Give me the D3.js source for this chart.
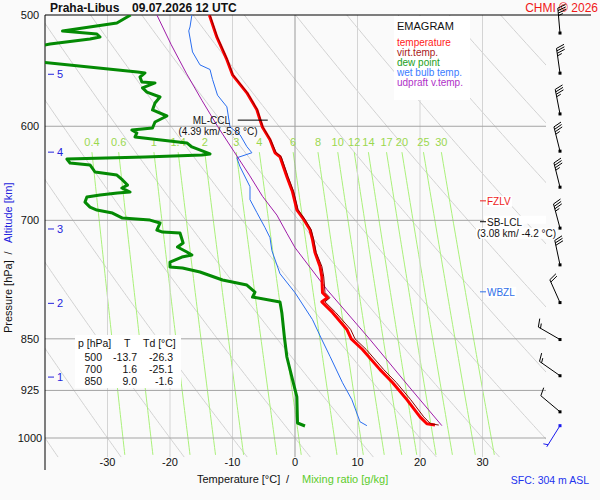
<!DOCTYPE html>
<html>
<head>
<meta charset="utf-8">
<script src="https://cdn.jsdelivr.net/npm/d3@7"></script>
<style>
  body { margin: 0; background: #fafafa; }
  svg { font-family: "Liberation Sans", Arial, sans-serif; display: block; }
</style>
</head>
<body>
<svg id="chart" width="600" height="500"></svg>
<script>
const pressureTicks = [500, 600, 700, 850, 925, 1000]
const tempTicks = [-30, -20, -10, 0, 10, 20, 30]
const mixingRatios = [0.4, 0.6, 1, 1.4, 2, 3, 4, 6, 8, 10, 12, 14, 17, 20, 25, 30]
const dryAdiabats = [-40, -30, -20, -10, 0, 10, 20, 30, 40, 50, 60, 70, 80, 90, 100, 110, 120, 130, 140]
const altKm = [1, 2, 3, 4, 5]
const altP = [905, 802, 710, 626, 551]

// [pressure hPa, temperature °C]
const temperature = [[500,-13.7],[518.5,-12.5],[538,-10.9],[551.5,-10.0],[568,-7.7],[584,-6.1],[593.6,-5.6],[601,-5.2],
  [613.4,-4.0],[626.6,-3.2],[630.7,-2.4],[651.7,-1.3],[668,-0.4],[688,0.3],[699,1.4],[711,2.4],[722.5,2.8],[738,3.2],
  [755,4.0],[768,4.3],[788,4.4],[794.6,5.2],[800,4.3],[814,6.0],[837,8.3],[850,9.0],[865,10.8],[894,13.6],[913,15.6],
  [939,17.9],[966,20.0],[977,21.1],[979,22.4]]
const virtTemp = [[500,-13.6],[518.5,-12.4],[538,-10.8],[551.5,-9.9],[568,-7.6],[584,-6.0],[593.6,-5.5],[601,-5.1],
  [613.4,-3.9],[626.6,-3.0],[630.7,-2.2],[651.7,-1.1],[668,-0.2],[688,0.5],[699,1.6],[711,2.6],[722.5,3.0],[738,3.4],
  [755,4.3],[768,4.6],[788,4.8],[794.6,5.6],[800,4.8],[814,6.5],[837,8.9],[850,9.6],[865,11.4],[894,14.2],[913,16.2],
  [939,18.5],[966,20.6],[977,21.7],[979,23.0]]
const dewPoint = [[500,-26.3],[506.6,-28.5],[513.3,-37.2],[515.8,-31.7],[518.4,-31.2],[520.1,-32.8],[524.3,-39.2],
  [532,-46],[540,-41],[549,-25.2],[549.8,-24.0],[553.5,-24.8],[558,-24.5],[558.9,-22.4],[563.5,-24.4],[567.3,-23.7],
  [571.9,-21.6],[577.6,-22.4],[584.2,-22.8],[590,-20.5],[595.8,-22.4],[601.7,-22.8],[603.7,-26.1],[606.6,-25.3],
  [610.6,-25.6],[616.6,-17.3],[620.7,-16.5],[627.8,-13.6],[628.9,-14.9],[631,-24.0],[633.1,-36.5],[637.2,-36.0],
  [639.3,-32.8],[646.7,-32.0],[649.9,-28.5],[655.2,-27.6],[660.7,-26.8],[663.9,-27.7],[668.3,-26.4],[669.4,-28.4],
  [671.6,-31.2],[673.8,-33.3],[679.4,-33.6],[685,-32.8],[688.3,-31.7],[691.7,-29.2],[697.4,-27.6],[699.7,-23.2],
  [703.1,-21.6],[711.2,-22.1],[713.6,-21.2],[714.7,-18.4],[726.5,-17.9],[731.3,-18.8],[737.3,-17.3],[740.9,-16.5],
  [743.4,-18.1],[749.5,-20.0],[755.6,-20.0],[756.9,-18.0],[761.8,-15.2],[771.9,-11.6],[778.3,-7.7],[787.3,-6.4],
  [793.8,-6.8],[800.3,-2.4],[814.8,-2.1],[847.5,-1.7],[875.7,-1.3],[904.9,-0.5],[935,0.3],[975.7,0.4],[980.5,1.6]]
const wetBulb = [[500,-16.5],[509.9,-16.8],[513.2,-17.0],[531.2,-16.4],[542.6,-15.2],[546.7,-13.6],[555.6,-13.2],
  [570.2,-12.4],[581.2,-10.9],[600.8,-10.4],[608.4,-8.8],[620.4,-7.7],[626.6,-6.9],[631.8,-9.3],[641.1,-8.8],
  [662.5,-7.2],[676.7,-7.2],[691.2,-6.1],[708.4,-4.8],[720.2,-4.0],[735.6,-3.7],[764,-2.4],[788.1,0.0],[823.7,2.8],
  [851.2,4.3],[874.8,5.6],[913.4,7.6],[939.2,9.1],[973.7,10.4],[980,11.5]]
const updraft = [[500,-22.1],[525,-19.8],[550,-17.4],[575,-14.9],[600,-12.4],[625,-9.8],[650,-7.3],[673,-5.2],
  [694,-2.9],[715,-1.3],[732,0.0],[784,5.1],[851,12.0],[920,18.3],[980,23.5]]

// wind profile every 0.5 km (pressure, direction deg, speed kt)
const windP = [515, 550, 588, 625, 663, 709, 753, 801, 851, 903, 958]
const windDir = [355, 352, 349, 346, 346, 345, 348, 336, 300, 305, 310]
const windSpd = [35, 35, 35, 35, 35, 35, 30, 20, 15, 15, 10]
const sfcWind = { p: 980, dir: 212, spd: 3 }

const tableP = ["500", "700", "850"]
const tableT = ["-13.7", "1.6", "9.0"]
const tableTd = ["-26.3", "-25.1", "-1.6"]

const legendItems = ["temperature", "virt.temp.", "dew point", "wet bulb temp.", "udpraft v.temp."]
const legendColors = ["#ff1a1a", "#a82020", "#22a022", "#3a7cff", "#b030c8"]

const mlCcl = { p: 594, t: -5.8, text: "(4.39 km/ -5.8 °C)" }
const sbLcl = { p: 701.6, text: "(3.08 km/ -4.2 °C)" }
const fzlvP = 678
const wbzlP = 787

// ---- scales ----
const svg = d3.select('#chart')
const x = d3.scaleLinear().domain([-40, 40]).range([45, 545])
const y = d3.scaleLog().domain([500, 1000]).range([15, 438])
const pBottom = 1032
const xR = 546

svg.append('rect').attr('width', 600).attr('height', 500).attr('fill', '#fafafa')

const defs = svg.append('defs')
defs.append('clipPath').attr('id', 'bgclip').append('rect')
  .attr('x', 45).attr('y', 15).attr('width', xR - 45).attr('height', y(pBottom) - 15)
defs.append('clipPath').attr('id', 'plotclip').append('rect')
  .attr('x', 45).attr('y', 15).attr('width', xR - 45).attr('height', 455)

const bg = svg.append('g').attr('clip-path', 'url(#bgclip)')
const pLevels = d3.range(500, pBottom + 1, 4)

// dry adiabats
const adiabat = d3.line().x(d => x(d[1])).y(d => y(d[0]))
bg.selectAll('path.dry').data(dryAdiabats).join('path')
  .attr('class', 'dry')
  .attr('d', th => adiabat(pLevels.map(p => [p, (th + 273.15) * Math.pow(p / 1000, 0.286) - 273.15])))
  .attr('fill', 'none').attr('stroke', '#d2d2d2').attr('stroke-width', 1)

// mixing ratio lines
function tdFromW(w, p) {
  const e = w * p / (622 + w)
  const l = Math.log(e / 6.112)
  return 243.5 * l / (17.67 - l)
}
const mixTop = 626
const mixLevels = d3.range(mixTop, pBottom + 1, 6)
bg.selectAll('path.mix').data(mixingRatios).join('path')
  .attr('class', 'mix')
  .attr('d', w => adiabat(mixLevels.map(p => [p, tdFromW(w, p)])))
  .attr('fill', 'none').attr('stroke', '#aaf07a').attr('stroke-width', 1)

svg.selectAll('text.mixlab').data(mixingRatios).join('text')
  .attr('class', 'mixlab')
  .attr('x', w => x(tdFromW(w, mixTop)))
  .attr('y', y(616) + 4)
  .attr('text-anchor', 'middle').attr('font-size', 11).attr('fill', '#9ad84e')
  .text(w => w)

// isotherms
bg.selectAll('line.iso').data(tempTicks).join('line')
  .attr('class', 'iso')
  .attr('x1', t => x(t)).attr('x2', t => x(t))
  .attr('y1', 15).attr('y2', y(pBottom))
  .attr('stroke', t => t === 0 ? '#9a9a9a' : '#d4d4d4').attr('stroke-width', 1)

// isobars
svg.selectAll('line.isobar').data(pressureTicks.slice(1)).join('line')
  .attr('class', 'isobar')
  .attr('x1', 45).attr('x2', xR)
  .attr('y1', p => y(p)).attr('y2', p => y(p))
  .attr('stroke', '#a4a4a4').attr('stroke-width', 1)

svg.append('line').attr('x1', 45).attr('x2', 591).attr('y1', y(500)).attr('y2', y(500))
  .attr('stroke', '#000').attr('stroke-width', 1)
svg.append('line').attr('x1', 45).attr('x2', 45).attr('y1', 15).attr('y2', 470)
  .attr('stroke', '#000').attr('stroke-width', 1)

// pressure labels
svg.selectAll('text.plab').data(pressureTicks).join('text')
  .attr('class', 'plab')
  .attr('x', 30).attr('y', p => y(p) + 4)
  .attr('text-anchor', 'middle').attr('font-size', 11).attr('fill', '#111')
  .text(p => p)

// temperature labels
svg.selectAll('text.tlab').data(tempTicks).join('text')
  .attr('class', 'tlab')
  .attr('x', t => x(t)).attr('y', 466)
  .attr('text-anchor', 'middle').attr('font-size', 11).attr('fill', '#111')
  .text(t => t)

// altitude ticks
const alt = svg.selectAll('g.alt').data(altKm).join('g').attr('class', 'alt')
alt.append('line').attr('x1', 48).attr('x2', 54)
  .attr('y1', (d, i) => y(altP[i])).attr('y2', (d, i) => y(altP[i]))
  .attr('stroke', '#2424dd').attr('stroke-width', 1)
alt.append('text').attr('x', 57).attr('y', (d, i) => y(altP[i]) + 4)
  .attr('font-size', 11).attr('fill', '#2424dd').text(d => d)

// profiles
const prof = svg.append('g').attr('clip-path', 'url(#plotclip)')
const line = d3.line().x(d => x(d[1])).y(d => y(d[0]))
const series = [
  { data: wetBulb, color: '#2a6ef0', w: 1 },
  { data: updraft, color: '#a01ca8', w: 1 },
  { data: temperature, color: '#ff0000', w: 3 },
  { data: virtTemp, color: '#8a0000', w: 1 },
  { data: dewPoint, color: '#048a04', w: 3 }
]
prof.selectAll('path.prof').data(series).join('path')
  .attr('class', 'prof')
  .attr('d', s => line(s.data))
  .attr('fill', 'none').attr('stroke', s => s.color).attr('stroke-width', s => s.w)
  .attr('stroke-linejoin', 'round')

// labels with white boxes
function boxedText(txt, tx, ty, color, size, anchor) {
  const g = svg.append('g')
  const t = g.append('text').attr('x', tx).attr('y', ty).attr('font-size', size)
    .attr('fill', color).attr('text-anchor', anchor || 'start').text(txt)
  const b = t.node().getBBox()
  g.insert('rect', 'text').attr('x', b.x - 1).attr('y', b.y).attr('width', b.width + 2).attr('height', b.height)
    .attr('fill', '#fff')
  return g
}

// ML-CCL
svg.append('line').attr('x1', x(mlCcl.t) - 21).attr('x2', x(mlCcl.t) + 9)
  .attr('y1', y(mlCcl.p)).attr('y2', y(mlCcl.p)).attr('stroke', '#000').attr('stroke-width', 1)
svg.append('text').attr('x', 230).attr('y', y(mlCcl.p) + 4).attr('text-anchor', 'end')
  .attr('font-size', 10).attr('fill', '#111').text('ML-CCL')
svg.append('text').attr('x', 218).attr('y', y(mlCcl.p) + 15).attr('text-anchor', 'middle')
  .attr('font-size', 10).attr('fill', '#111').text(mlCcl.text)

// FZLV / SB-LCL / WBZL
boxedText('FZLV', 487, y(fzlvP) + 4, '#ee1c1c', 10)
svg.append('line').attr('x1', 480).attr('x2', 486).attr('y1', y(fzlvP)).attr('y2', y(fzlvP)).attr('stroke', '#ee1c1c')
svg.append('rect').attr('x', 484).attr('y', y(sbLcl.p) - 6).attr('width', 62).attr('height', 8).attr('fill', '#fff')
boxedText('SB-LCL', 487, y(sbLcl.p) + 4, '#111', 10)
boxedText(sbLcl.text, 477, y(sbLcl.p) + 15, '#111', 10)
svg.append('line').attr('x1', 480).attr('x2', 486).attr('y1', y(sbLcl.p)).attr('y2', y(sbLcl.p)).attr('stroke', '#000')
boxedText('WBZL', 487, y(wbzlP) + 4, '#2f6fe8', 10)
svg.append('line').attr('x1', 480).attr('x2', 486).attr('y1', y(wbzlP)).attr('y2', y(wbzlP)).attr('stroke', '#2f6fe8')

// legend
svg.append('rect').attr('x', 394).attr('y', 16).attr('width', 76).attr('height', 84).attr('fill', '#fff')
svg.append('text').attr('x', 397).attr('y', 30).attr('font-size', 11).attr('fill', '#111').text('EMAGRAM')
svg.selectAll('text.leg').data(legendItems).join('text')
  .attr('class', 'leg')
  .attr('x', 397).attr('y', (d, i) => 46 + i * 10)
  .attr('font-size', 10).attr('fill', (d, i) => legendColors[i])
  .text(d => d)

// table
svg.append('rect').attr('x', 75).attr('y', 335).attr('width', 106).attr('height', 53).attr('fill', '#fff')
const tbl = svg.append('g').attr('font-size', 10.5).attr('fill', '#111')
tbl.append('text').attr('x', 78).attr('y', 347).text('p [hPa]')
tbl.append('text').attr('x', 124).attr('y', 347).text('T')
tbl.append('text').attr('x', 143).attr('y', 347).text('Td [°C]')
tableP.forEach((p, i) => {
  const ty = 361 + i * 12
  tbl.append('text').attr('x', 102).attr('y', ty).attr('text-anchor', 'end').text(p)
  tbl.append('text').attr('x', 137).attr('y', ty).attr('text-anchor', 'end').text(tableT[i])
  tbl.append('text').attr('x', 173).attr('y', ty).attr('text-anchor', 'end').text(tableTd[i])
})

// titles
svg.append('text').attr('x', 50).attr('y', 12).attr('font-size', 12).attr('font-weight', 'bold')
  .attr('fill', '#111').text('Praha-Libus')
svg.append('text').attr('x', 132).attr('y', 12).attr('font-size', 12).attr('font-weight', 'bold')
  .attr('fill', '#111').text('09.07.2026 12 UTC')
svg.append('text').attr('x', 598).attr('y', 12).attr('font-size', 12).attr('text-anchor', 'end')
  .attr('fill', '#f01818').text('CHMI © 2026')

svg.append('text').attr('x', 197).attr('y', 483).attr('font-size', 11).attr('fill', '#111').text('Temperature [°C]')
svg.append('text').attr('x', 286).attr('y', 483).attr('font-size', 11).attr('fill', '#111').text('/')
svg.append('text').attr('x', 302).attr('y', 483).attr('font-size', 11).attr('fill', '#5ccc2c').text('Mixing ratio [g/kg]')
svg.append('text').attr('x', 589).attr('y', 484).attr('font-size', 10.5).attr('text-anchor', 'end')
  .attr('fill', '#2233ee').text('SFC: 304 m ASL')

svg.append('text').attr('transform', 'translate(12,333) rotate(-90)').attr('font-size', 11)
  .attr('fill', '#111').text('Pressure [hPa]')
svg.append('text').attr('transform', 'translate(12,253) rotate(-90)').attr('font-size', 11)
  .attr('text-anchor', 'middle').attr('fill', '#111').text('/')
svg.append('text').attr('transform', 'translate(12,243) rotate(-90)').attr('font-size', 11)
  .attr('fill', '#2424dd').text('Altitude [km]')

// wind barbs
function barb(p, dir, spd, color) {
  const g = svg.append('g').attr('stroke', color).attr('fill', color)
  const px = 560, py = y(p), L = 25
  const r = dir * Math.PI / 180
  const ux = Math.sin(r), uy = -Math.cos(r)
  const vx = -uy, vy = ux
  g.append('line').attr('x1', px).attr('y1', py).attr('x2', px + ux * L).attr('y2', py + uy * L)
    .attr('stroke-width', 1)
  g.append('rect').attr('x', px - 1.5).attr('y', py - 1.5).attr('width', 3).attr('height', 3).attr('stroke', 'none')
  const s5 = Math.round(spd / 5) * 5
  const full = Math.floor(s5 / 10)
  const half = s5 % 10 === 5
  let d = L
  for (let i = 0; i < full; i++) {
    const bx = px + ux * d, by = py + uy * d
    g.append('line').attr('x1', bx).attr('y1', by)
      .attr('x2', bx + vx * 8 + ux * 3).attr('y2', by + vy * 8 + uy * 3).attr('stroke-width', 1)
    d -= 2.5
  }
  if (half) {
    if (full === 0) d -= 2.5
    const bx = px + ux * d, by = py + uy * d
    g.append('line').attr('x1', bx).attr('y1', by)
      .attr('x2', bx + vx * 4.5 + ux * 1.7).attr('y2', by + vy * 4.5 + uy * 1.7).attr('stroke-width', 1)
  }
}
windP.forEach((p, i) => barb(p, windDir[i], windSpd[i], '#000'))
barb(sfcWind.p, sfcWind.dir, sfcWind.spd, '#1a1aee')
</script>
</body>
</html>
